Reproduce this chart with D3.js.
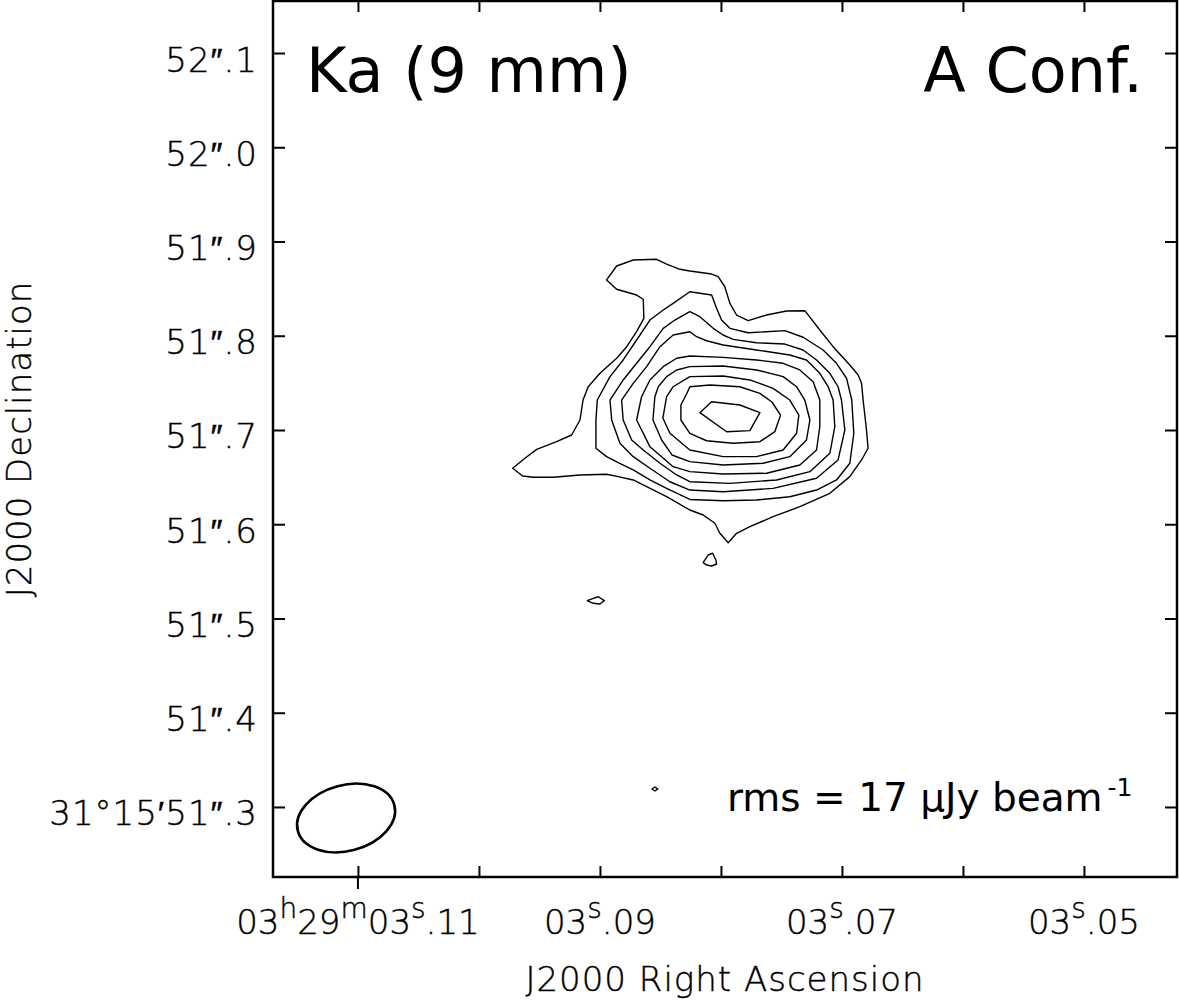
<!DOCTYPE html>
<html>
<head>
<meta charset="utf-8">
<script src="https://cdn.jsdelivr.net/npm/d3@7"></script>
<style>
  body { margin: 0; background: #fff; }
  svg { display: block; }
  .lbl { font-family: "DejaVu Sans", sans-serif; font-weight: 200; font-size: 34px; fill: #000; stroke: #000; stroke-width: 0.4px; }
  .wide { letter-spacing: 1px; }
  .big { font-family: "DejaVu Sans", sans-serif; font-size: 62px; fill: #000; }
</style>
</head>
<body>
<div id="chart"></div>
<script>
// axis ticks (RA in seconds of time after 03h29m, Dec in arcsec after 31d15m)
const raTicks = [3.11, 3.10, 3.09, 3.08, 3.07, 3.06, 3.05];
const raLabelValues = [3.11, 3.09, 3.07, 3.05];
const raLabels = ["03h29m03s.11", "03s.09", "03s.07", "03s.05"];
const decTicks = [51.3, 51.4, 51.5, 51.6, 51.7, 51.8, 51.9, 52.0, 52.1];
const decLabels = ["31°15′51″.3", "51″.4", "51″.5", "51″.6", "51″.7", "51″.8", "51″.9", "52″.0", "52″.1"];

// contour levels, outermost first, as [RA s, Dec "] vertices
const contour1 = [
  [3.09721, 51.6594], [3.09639, 51.6512], [3.09551, 51.6498], [3.09386, 51.6498], [3.09165, 51.6523],
  [3.08945, 51.6530], [3.08849, 51.6505], [3.08725, 51.6470], [3.08614, 51.6398], [3.08449, 51.6292],
  [3.08257, 51.6151], [3.08147, 51.6098], [3.08050, 51.6010], [3.08009, 51.5904], [3.07940, 51.5804],
  [3.07871, 51.5904], [3.07761, 51.5974], [3.07569, 51.6080], [3.07348, 51.6186], [3.07100, 51.6328],
  [3.06935, 51.6505], [3.06838, 51.6682], [3.06784, 51.6806], [3.06797, 51.7000], [3.06825, 51.7318],
  [3.06838, 51.7495], [3.06866, 51.7584], [3.06935, 51.7690], [3.07073, 51.7884], [3.07183, 51.8061],
  [3.07307, 51.8266], [3.07458, 51.8263], [3.07623, 51.8220], [3.07775, 51.8160], [3.07871, 51.8220],
  [3.07926, 51.8344], [3.07968, 51.8520], [3.08023, 51.8627], [3.08077, 51.8655], [3.08257, 51.8687],
  [3.08339, 51.8705], [3.08449, 51.8761], [3.08532, 51.8811], [3.08725, 51.8804], [3.08862, 51.8740],
  [3.08945, 51.8592], [3.08862, 51.8493], [3.08697, 51.8432], [3.08642, 51.8387], [3.08637, 51.8185],
  [3.08697, 51.8043], [3.08779, 51.7884], [3.08862, 51.7761], [3.09000, 51.7602], [3.09097, 51.7459],
  [3.09140, 51.7318], [3.09165, 51.7106], [3.09234, 51.6947], [3.09358, 51.6876], [3.09523, 51.6795],
  [3.09620, 51.6700]
];
const contour2 = [
  [3.08257, 51.8467], [3.08077, 51.8432], [3.08036, 51.8291], [3.07995, 51.8167], [3.07926, 51.8079],
  [3.07775, 51.8032], [3.07472, 51.8054], [3.07321, 51.7984], [3.07156, 51.7849], [3.07045, 51.7708],
  [3.06962, 51.7549], [3.06919, 51.7318], [3.06902, 51.6965], [3.06935, 51.6647], [3.07045, 51.6470],
  [3.07210, 51.6363], [3.07431, 51.6292], [3.07706, 51.6257], [3.07982, 51.6250], [3.08257, 51.6263],
  [3.08449, 51.6381], [3.08587, 51.6470], [3.08725, 51.6576], [3.08849, 51.6653], [3.08945, 51.6717],
  [3.09033, 51.6806], [3.09033, 51.7106], [3.09022, 51.7318], [3.08917, 51.7566], [3.08808, 51.7743],
  [3.08697, 51.7955], [3.08587, 51.8167], [3.08477, 51.8273], [3.08395, 51.8344]
];
const contour3 = [
  [3.08257, 51.8255], [3.08174, 51.8202], [3.08064, 51.8079], [3.07982, 51.8008], [3.07899, 51.7962],
  [3.07706, 51.7926], [3.07472, 51.7912], [3.07321, 51.7849], [3.07210, 51.7743], [3.07100, 51.7602],
  [3.07032, 51.7459], [3.07004, 51.7318], [3.06976, 51.7000], [3.07032, 51.6682], [3.07210, 51.6488],
  [3.07569, 51.6381], [3.07982, 51.6345], [3.08257, 51.6363], [3.08422, 51.6451], [3.08587, 51.6594],
  [3.08725, 51.6717], [3.08835, 51.6859], [3.08903, 51.7106], [3.08917, 51.7318], [3.08808, 51.7531],
  [3.08697, 51.7708], [3.08587, 51.7884], [3.08477, 51.8079], [3.08381, 51.8167]
];
const contour4 = [
  [3.08257, 51.8043], [3.08201, 51.7990], [3.08119, 51.7947], [3.07982, 51.7902], [3.07706, 51.7849],
  [3.07431, 51.7796], [3.07293, 51.7743], [3.07183, 51.7602], [3.07114, 51.7459], [3.07073, 51.7318],
  [3.07059, 51.7035], [3.07100, 51.6753], [3.07265, 51.6558], [3.07540, 51.6470], [3.07926, 51.6434],
  [3.08257, 51.6451], [3.08366, 51.6523], [3.08504, 51.6647], [3.08642, 51.6788], [3.08738, 51.6894],
  [3.08808, 51.7106], [3.08821, 51.7318], [3.08725, 51.7495], [3.08614, 51.7672], [3.08504, 51.7884],
  [3.08395, 51.8008]
];
const contour5 = [
  [3.08257, 51.7785], [3.07982, 51.7771], [3.07706, 51.7743], [3.07486, 51.7708], [3.07348, 51.7637],
  [3.07238, 51.7512], [3.07183, 51.7318], [3.07183, 51.7035], [3.07210, 51.6788], [3.07348, 51.6629],
  [3.07623, 51.6541], [3.07982, 51.6533], [3.08257, 51.6558], [3.08395, 51.6611], [3.08587, 51.6823],
  [3.08697, 51.7106], [3.08656, 51.7353], [3.08587, 51.7531], [3.08477, 51.7672], [3.08366, 51.7761]
];
const contour6 = [
  [3.08257, 51.7672], [3.07982, 51.7679], [3.07706, 51.7637], [3.07486, 51.7566], [3.07375, 51.7459],
  [3.07307, 51.7318], [3.07265, 51.7106], [3.07293, 51.6894], [3.07431, 51.6717], [3.07651, 51.6647],
  [3.07982, 51.6629], [3.08257, 51.6664], [3.08405, 51.6735], [3.08490, 51.6894], [3.08562, 51.7106],
  [3.08546, 51.7353], [3.08518, 51.7459], [3.08449, 51.7566], [3.08366, 51.7637]
];
const contour7 = [
  [3.08257, 51.7566], [3.07982, 51.7573], [3.07761, 51.7531], [3.07569, 51.7442], [3.07431, 51.7318],
  [3.07356, 51.7159], [3.07375, 51.6965], [3.07486, 51.6788], [3.07706, 51.6717], [3.07982, 51.6717],
  [3.08257, 51.6788], [3.08422, 51.6965], [3.08480, 51.7127], [3.08449, 51.7353], [3.08395, 51.7459]
];
const contour8 = [
  [3.08257, 51.7459], [3.08091, 51.7477], [3.07844, 51.7459], [3.07678, 51.7389], [3.07579, 51.7297],
  [3.07507, 51.7159], [3.07555, 51.6982], [3.07678, 51.6876], [3.07899, 51.6859], [3.08119, 51.6886],
  [3.08257, 51.6965], [3.08331, 51.7106], [3.08331, 51.7265], [3.08284, 51.7382]
];
const contour9 = [
  [3.08174, 51.7184], [3.08077, 51.7300], [3.07844, 51.7265], [3.07678, 51.7184], [3.07761, 51.6993],
  [3.07953, 51.6982]
];
const islandA = [
  [3.08147, 51.5592], [3.08105, 51.5674], [3.08069, 51.5692], [3.08042, 51.5621], [3.08036, 51.5578],
  [3.08077, 51.5557], [3.08119, 51.5568]
];
const islandB = [
  [3.09105, 51.5189], [3.09055, 51.5214], [3.09014, 51.5231], [3.08964, 51.5189], [3.09000, 51.5154],
  [3.09055, 51.5161]
];
const islandC = [[3.08570, 51.3191], [3.08546, 51.3212], [3.08521, 51.3191], [3.08546, 51.3170]];

// synthesized beam: centre, major/minor FWHM (arcsec), position angle (deg E of N)
const beamCentre = [3.11098, 51.2883];
const beamAxes = [0.106, 0.070];
const beamPA = -75;

const settings = {
  width: 1179, height: 1002,
  frame: { left: 273, right: 1177, top: 1, bottom: 877 },
  raLimits: [3.11702, 3.04231],
  decLimits: [51.2257, 52.1552]
};

const svg = d3.select("#chart").append("svg")
  .attr("width", settings.width)
  .attr("height", settings.height);

svg.append("rect").attr("width", settings.width).attr("height", settings.height).attr("fill", "#fff");

const f = settings.frame;
const x = d3.scaleLinear().domain(settings.raLimits).range([f.left, f.right]);
const y = d3.scaleLinear().domain(settings.decLimits).range([f.bottom, f.top]);

// contours
const line = d3.line().x(d => x(d[0])).y(d => y(d[1])).curve(d3.curveLinearClosed);
const contours = [contour1, contour2, contour3, contour4, contour5, contour6, contour7, contour8, contour9,
  islandA, islandB, islandC];

svg.append("g")
  .attr("class", "contours")
  .selectAll("path")
  .data(contours)
  .enter()
  .append("path")
  .attr("d", line)
  .attr("fill", "none")
  .attr("stroke", "#000")
  .attr("stroke-width", 1.4)
  .attr("stroke-linejoin", "round");

// beam ellipse
const pxPerArcsec = Math.abs(y(1) - y(0));
svg.append("ellipse")
  .attr("cx", x(beamCentre[0]))
  .attr("cy", y(beamCentre[1]))
  .attr("rx", beamAxes[0] / 2 * pxPerArcsec)
  .attr("ry", beamAxes[1] / 2 * pxPerArcsec)
  .attr("transform", `rotate(${-(90 + beamPA)},${x(beamCentre[0])},${y(beamCentre[1])})`)
  .attr("fill", "none")
  .attr("stroke", "#000")
  .attr("stroke-width", 2.6);

// ticks on all four sides, pointing inwards
const addAxis = (axis, tx, ty) => {
  const g = svg.append("g")
    .attr("transform", `translate(${tx},${ty})`)
    .call(axis);
  g.select(".domain").remove();
  g.selectAll("line").attr("stroke", "#000").attr("stroke-width", 2);
  g.selectAll("text").remove();
};
addAxis(d3.axisBottom(x).tickValues(raTicks).tickSizeInner(-11).tickSizeOuter(0), 0, f.bottom);
addAxis(d3.axisTop(x).tickValues(raTicks).tickSizeInner(-11).tickSizeOuter(0), 0, f.top);
addAxis(d3.axisLeft(y).tickValues(decTicks).tickSizeInner(-12).tickSizeOuter(0), f.left, 0);
addAxis(d3.axisRight(y).tickValues(decTicks).tickSizeInner(-12).tickSizeOuter(0), f.right, 0);

// reference tick sticks out below the frame
svg.append("line")
  .attr("x1", x(raLabelValues[0])).attr("x2", x(raLabelValues[0]))
  .attr("y1", f.bottom).attr("y2", f.bottom + 12)
  .attr("stroke", "#000").attr("stroke-width", 2);

// frame
svg.append("rect")
  .attr("x", f.left).attr("y", f.top)
  .attr("width", f.right - f.left).attr("height", f.bottom - f.top)
  .attr("fill", "none").attr("stroke", "#000").attr("stroke-width", 2.5);

// RA labels with raised h/m/s
raLabelValues.forEach((v, i) => {
  const t = svg.append("text")
    .attr("class", "lbl")
    .attr("x", x(v))
    .attr("y", 934)
    .attr("text-anchor", "middle");
  let raised = false;
  raLabels[i].split(/([hms])/).filter(s => s.length).forEach(part => {
    const sup = /^[hms]$/.test(part);
    const dy = sup && !raised ? -16 : (!sup && raised ? 16 : 0);
    raised = sup;
    const ts = t.append("tspan").attr("dy", dy).text(part);
    if (sup) ts.attr("font-size", 28);
  });
});

// Dec labels
svg.append("g")
  .selectAll("text")
  .data(decTicks)
  .enter()
  .append("text")
  .attr("class", "lbl wide")
  .attr("x", 258)
  .attr("y", d => y(d) + 18.5)
  .attr("text-anchor", "end")
  .text((d, i) => decLabels[i]);

// axis titles
svg.append("text")
  .attr("class", "lbl wide")
  .attr("x", (f.left + f.right) / 2)
  .attr("y", 991)
  .attr("text-anchor", "middle")
  .text("J2000 Right Ascension");

svg.append("text")
  .attr("class", "lbl wide")
  .attr("transform", `translate(31,${(f.top + f.bottom) / 2}) rotate(-90)`)
  .attr("text-anchor", "middle")
  .text("J2000 Declination");

// annotations
svg.append("text").attr("class", "big").attr("x", 306).attr("y", 92).text("Ka (9 mm)");
svg.append("text").attr("class", "big").attr("x", 1143).attr("y", 92).attr("text-anchor", "end").text("A Conf.");

const rms = svg.append("text")
  .attr("x", 727).attr("y", 811)
  .attr("font-family", "DejaVu Sans, sans-serif")
  .attr("font-size", 39)
  .attr("fill", "#000");
rms.append("tspan").text("rms = 17 μJy beam");
rms.append("tspan").attr("font-size", 25).attr("dx", 5).attr("dy", -15).text("-1");
</script>
</body>
</html>
